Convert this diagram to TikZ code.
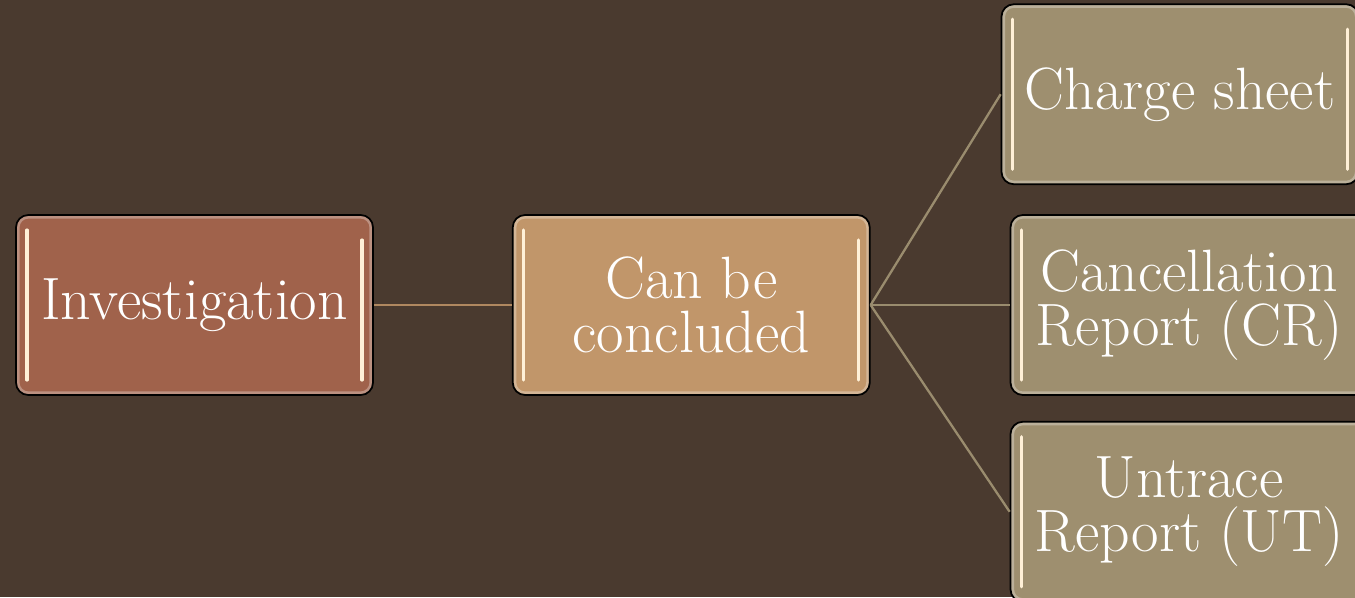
\documentclass[tikz,border=0pt]{standalone}
\usepackage{tikz}
\usetikzlibrary{positioning}
\definecolor{fondbrun}{RGB}{74, 58, 47}
\definecolor{brique}{RGB}{160, 98, 75}
\definecolor{caramel}{RGB}{193, 150, 106}
\definecolor{kaki}{RGB}{158, 143, 111}
\definecolor{lienbrun}{RGB}{176, 136, 96}
\definecolor{lienkaki}{RGB}{154, 140, 110}
\definecolor{reflet}{RGB}{255, 240, 215}

\begin{document}
\begin{tikzpicture}[
    boite/.style={rectangle, rounded corners=7pt, draw=black, line width=1pt,
                  text=white, align=center, inner sep=0pt,
                  minimum width=7.14cm, minimum height=3.6cm,
                  font=\fontsize{34}{31}\selectfont,
                  path picture={
                    \draw[white, opacity=0.3, line width=4pt, rounded corners=7pt]
                      (path picture bounding box.south west)
                      rectangle (path picture bounding box.north east);
                    \draw[reflet, line width=1.8pt, line cap=round]
                      ([shift={(2.2mm,-3mm)}]path picture bounding box.north west)
                      -- ([shift={(2.2mm,3mm)}]path picture bounding box.south west);
                    \draw[reflet, line width=1.8pt, line cap=round]
                      ([shift={(-2.2mm,-5mm)}]path picture bounding box.north east)
                      -- ([shift={(-2.2mm,3mm)}]path picture bounding box.south east);}},
    lien/.style={line width=1.3pt}]
    % fond
    \fill[fondbrun] (0,0) rectangle (27.1,-11.94);
    \useasboundingbox (0,0) rectangle (27.1,-11.94);
    % enquete -> conclusion
    \node[boite, fill=brique] (inv) at (3.89,-6.1) {Investigation};
    \node[boite, fill=caramel, right=2.76cm of inv] (can) {Can be\\concluded};
    \draw[lien, draw=lienbrun] (inv) -- (can);
    % les trois issues
    \node[boite, fill=kaki, right=2.78cm of can] (cr) {Cancellation\\Report (CR)};
    \node[boite, fill=kaki, above=5.8mm of cr, xshift=-1.8mm] (cs) {Charge sheet};
    \node[boite, fill=kaki, below=5mm of cr] (ut) {Untrace\\Report (UT)};
    \draw[lien, draw=lienkaki] (can.east) -- (cs.west);
    \draw[lien, draw=lienkaki] (can.east) -- (cr.west);
    \draw[lien, draw=lienkaki] (can.east) -- (ut.west);
\end{tikzpicture}
\end{document}
